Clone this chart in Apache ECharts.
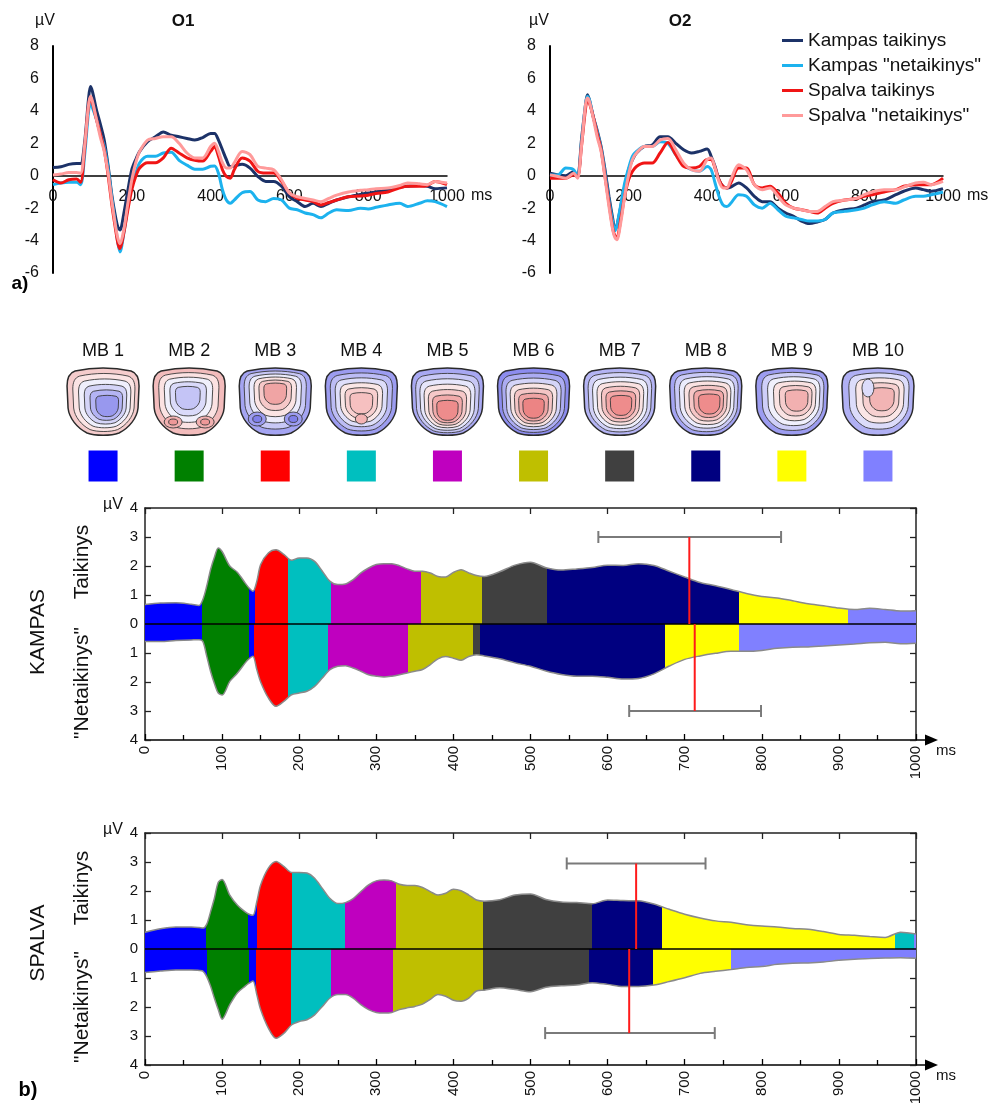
<!DOCTYPE html>
<html><head><meta charset="utf-8">
<script src="https://cdn.jsdelivr.net/npm/echarts@6/dist/echarts.min.js"></script>
<style>html,body{margin:0;padding:0;background:#fff}#c{width:991px;height:1104px}</style>
</head><body><div id="c"></div>
<script>
// ---------- a) ERP traces ----------
const erpTime = [0,20,40,60,70,80,90,95,100,110,120,130,140,150,160,165,170,180,190,200,210,220,240,260,280,300,320,340,360,380,400,410,420,430,440,450,460,480,500,520,540,560,580,600,620,640,660,680,700,720,750,780,800,820,850,880,900,930,950,970,1000];
const seriesNames = ['Kampas taikinys', 'Kampas "netaikinys"', 'Spalva taikinys', 'Spalva "netaikinys"'];
const o1KampasTaik = [0.5,0.55,0.7,0.75,0.75,2.0,4.7,5.5,5.2,4.1, 3.2,2.2,0.6,-1.3,-2.7,-3.2,-3.35,-2.3,-0.9,0.37, 1.0,1.5,2.1,2.4,2.7,2.5,2.4,2.3,2.2,2.35, 2.6,2.6,2.2,1.6,1.0,0.55,0.6,0.7,0.47,-0.05, -0.35,-0.35,-0.65,-1.3,-1.6,-1.9,-1.7,-1.9,-1.7,-1.5, -1.3,-1.15,-1.07,-1.0,-0.85,-0.7,-0.65,-0.6,-0.65,-0.8, -0.75];
const o1KampasNet = [-0.55,-0.45,-0.4,-0.4,-0.55,1.2,3.9,4.5,4.2,3.5, 2.6,1.8,0.4,-1.5,-3.3,-4.2,-4.7,-3.5,-1.9,-0.65, 0.15,0.8,1.2,1.2,1.4,1.45,0.95,0.65,0.4,0.4, 0.58,0.6,0.15,-0.86,-1.5,-1.7,-1.5,-1.05,-0.97,-1.5, -1.6,-1.4,-1.5,-2.0,-2.1,-2.3,-2.4,-2.6,-2.3,-2.1, -2.15,-2.0,-2.05,-1.95,-1.8,-1.7,-1.9,-1.7,-1.55,-1.6, -1.9];
const o1SpalvaTaik = [-0.25,-0.45,-0.25,-0.2,-0.4,1.6,4.3,4.8,4.5,3.5, 2.6,1.6,0.0,-1.9,-3.5,-4.2,-4.5,-3.5,-2.1,-0.86, -0.05,0.47,0.8,0.8,1.1,1.7,1.4,1.1,0.95,0.9, 1.5,1.8,1.2,0.37,-0.05,-0.15,0.37,1.1,0.9,0.27, 0.16,0.16,-0.35,-1.07,-1.4,-1.5,-1.6,-1.8,-1.65,-1.5, -1.3,-1.25,-1.2,-1.1,-1.0,-0.75,-0.65,-0.65,-0.6,-0.35, -0.55];
const o1SpalvaNet = [0.05,0.1,0.2,0.2,0.15,1.8,4.3,4.9,4.6,3.5, 2.4,1.5,0.15,-1.7,-3.3,-3.9,-4.2,-3.3,-1.7,-0.25, 0.8,1.5,2.2,2.3,2.4,2.4,2.0,1.4,1.1,1.1, 1.8,2.0,1.5,0.8,0.47,0.47,0.8,1.5,1.3,0.58, 0.47,0.37,-0.25,-1.07,-1.3,-1.4,-1.5,-1.6,-1.4,-1.2, -1.0,-0.9,-0.86,-0.8,-0.76,-0.6,-0.45,-0.5,-0.55,-0.35, -0.45];
const o2KampasTaik = [0.15,0.05,0.0,0.25,-0.05,2.2,4.3,5.0,4.7,3.65, 2.8,1.8,0.37,-1.27,-2.7,-3.3,-3.1,-1.9,-0.65,0.37, 1.0,1.4,1.8,1.9,2.4,2.4,2.0,1.6,1.4,1.5, 1.65,1.2,0.57,-0.25,-0.65,-0.75,-0.7,-0.45,-0.75,-1.27, -1.6,-1.6,-2.0,-2.3,-2.5,-2.8,-2.95,-2.85,-2.7,-2.3, -2.1,-2.0,-1.8,-1.6,-1.5,-1.17,-0.96,-0.75,-0.86,-0.96, -0.8];
const o2KampasNet = [0.05,0.05,0.47,0.37,-0.05,2.0,4.3,4.9,4.7,3.65, 2.7,1.7,0.15,-1.5,-2.9,-3.4,-3.1,-1.8,-0.45,0.47, 1.2,1.5,1.8,1.8,2.1,2.0,1.3,0.68,0.37,0.27, 0.57,0.37,-0.45,-1.27,-1.8,-1.9,-1.7,-1.17,-1.27,-1.8, -2.0,-1.7,-2.1,-2.5,-2.6,-2.7,-2.8,-2.8,-2.7,-2.3, -2.2,-2.1,-2.0,-1.8,-1.6,-1.7,-1.5,-1.27,-1.27,-1.17, -1.0];
const o2SpalvaTaik = [-0.15,-0.15,-0.15,0.05,-0.05,1.8,4.05,4.7,4.5,3.65, 2.6,1.6,-0.05,-1.7,-3.3,-3.7,-3.85,-2.7,-1.27,-0.25, 0.27,0.57,0.78,0.78,1.4,2.05,1.3,0.57,0.47,0.57, 1.0,1.0,0.47,-0.25,-0.65,-0.75,-0.45,0.47,0.47,-0.55, -0.75,-0.65,-1.07,-1.7,-2.0,-2.1,-2.2,-2.3,-2.0,-1.7, -1.5,-1.4,-1.27,-1.17,-1.0,-0.86,-0.65,-0.55,-0.55,-0.55, -0.15];
const o2SpalvaNet = [0.05,-0.05,-0.15,0.15,-0.15,1.8,4.3,4.8,4.6,3.55, 2.4,1.5,-0.15,-1.9,-3.4,-3.8,-3.95,-2.9,-1.27,0.05, 1.0,1.4,1.8,1.8,2.2,2.3,1.6,0.78,0.37,0.27, 1.0,1.1,0.47,-0.35,-0.75,-0.75,-0.25,0.68,0.37,-0.55, -0.86,-0.75,-1.27,-1.8,-2.0,-2.1,-2.2,-2.2,-1.9,-1.6, -1.5,-1.4,-1.17,-1.0,-0.86,-0.86,-0.7,-0.45,-0.4,-0.55, -0.35];
const erpTicks = [-6, 8, 2];

// ---------- b) microstates ----------
const mbLabels = ['MB 1','MB 2','MB 3','MB 4','MB 5','MB 6','MB 7','MB 8','MB 9','MB 10'];
const mbColors = ['#0000ff','#008000','#ff0000','#00bfbf','#bf00bf','#bfbf00','#404040','#000080','#ffff00','#8080ff'];
const gfpTime = [0,20,40,60,70,75,80,85,90,95,100,110,120,130,135,140,145,150,160,170,180,190,200,210,220,230,240,250,260,270,280,290,300,310,320,330,340,350,360,370,380,390,400,410,420,430,440,460,480,500,520,540,560,580,600,620,640,660,680,700,720,740,760,780,800,820,840,860,880,900,920,940,960,980,1000];
const kampasTaik = [0.67,0.72,0.73,0.68,0.64,0.84,1.3,1.87,2.3,2.62, 2.5,2.0,1.78,1.41,1.24,1.13,1.47,2.05,2.45,2.56, 2.4,2.2,2.28,2.28,2.16,1.82,1.47,1.36,1.38,1.53, 1.76,1.93,2.05,2.08,2.08,2.01,1.9,1.82,1.82,1.76, 1.64,1.62,1.78,1.87,1.76,1.67,1.64,1.8,2.03,2.13, 1.94,1.86,1.9,1.95,2.03,2.02,2.08,2.02,1.82,1.62, 1.43,1.32,1.19,1.05,0.95,0.9,0.8,0.7,0.63,0.55, 0.5,0.54,0.5,0.45,0.46];
const kampasNet = [0.6,0.6,0.57,0.55,0.54,0.6,1.1,1.63,2.05,2.38, 2.45,1.98,1.69,1.34,1.2,1.11,1.57,2.0,2.55,2.84, 2.67,2.44,2.38,2.32,2.15,1.86,1.57,1.46,1.44,1.52, 1.63,1.75,1.8,1.83,1.8,1.75,1.69,1.63,1.57,1.4, 1.2,1.12,1.18,1.25,1.12,1.06,1.1,1.2,1.34,1.46, 1.62,1.74,1.8,1.8,1.84,1.9,1.88,1.72,1.45,1.22, 1.1,1.01,0.94,0.94,0.91,0.84,0.8,0.79,0.76,0.72, 0.69,0.65,0.63,0.68,0.66];
const spalvaTaik = [0.58,0.7,0.76,0.76,0.74,0.72,0.85,1.28,1.75,2.3, 2.4,1.86,1.51,1.28,1.2,1.16,1.63,2.21,2.79,3.02, 2.85,2.64,2.64,2.62,2.44,2.09,1.74,1.57,1.6,1.74, 1.98,2.21,2.35,2.38,2.35,2.23,2.19,2.19,2.12,1.98, 1.86,1.92,2.06,2.01,1.86,1.69,1.65,1.7,1.86,1.9, 1.71,1.62,1.6,1.56,1.69,1.67,1.66,1.55,1.37,1.2, 1.07,0.97,0.92,0.84,0.79,0.76,0.71,0.68,0.6,0.5, 0.47,0.43,0.4,0.58,0.52];
const spalvaNet = [0.81,0.76,0.72,0.72,0.74,0.76,0.95,1.28,1.7,2.09, 2.42,1.92,1.51,1.28,1.18,1.1,1.57,2.09,2.73,3.08, 2.91,2.62,2.5,2.44,2.27,1.98,1.69,1.57,1.57,1.69, 1.92,2.09,2.19,2.21,2.19,2.09,2.03,1.98,1.9,1.74, 1.57,1.63,1.77,1.8,1.69,1.45,1.42,1.34,1.4,1.47, 1.32,1.27,1.24,1.16,1.22,1.29,1.29,1.24,1.12,0.99, 0.84,0.77,0.71,0.64,0.6,0.53,0.49,0.48,0.45,0.39, 0.35,0.33,0.31,0.3,0.32];
// segment boundaries (ms) and the microstate number (1..10) of each segment
const kampasTaikBounds = [0,74,135,143,186,241,358,437,522,771,912,1000];
const kampasTaikStates = [1,2,1,3,4,5,6,7,8,9,10];
const kampasNetBounds = [0,74,135,142,185,238,341,425,434,675,770,1000];
const kampasNetStates = [1,2,1,3,4,5,6,7,8,9,10];
const spalvaTaikBounds = [0,79,134,145,191,259,326,439,580,671,973,997,1000];
const spalvaTaikStates = [1,2,1,3,4,5,6,7,8,9,4,10];
const spalvaNetBounds = [0,81,135,144,189,241,322,439,576,659,760,1000];
const spalvaNetStates = [1,2,1,3,4,5,6,7,8,9,10];
// peak latency mean and range (ms), drawn at level (µV)
const kampasPeakMean = [706, 713];
const kampasPeakLow = [588, 628];
const kampasPeakHigh = [825, 799];
const kampasPeakLevel = [3, -3];
const spalvaPeakMean = [637, 628];
const spalvaPeakLow = [547, 519];
const spalvaPeakHigh = [727, 739];
const spalvaPeakLevel = [2.95, -2.9];
const gfpTicks = [-4, 4, 1];

// ---------- layout & style ----------
const FONT = "'Liberation Sans', Arial, Helvetica, sans-serif";
const TXT = '#111';
const lineColors = ['#1c3268', '#1cb2ee', '#f01515', '#ff9a9a'];
const G = {
  o1: {left: 53, top: 46, width: 394, height: 227},
  o2: {left: 550, top: 46, width: 393, height: 227},
  mb: {left: 60, top: 370, width: 861, height: 128},
  k: {left: 145, top: 508, width: 771, height: 232},
  s: {left: 145, top: 833, width: 771, height: 232}
};
// topographic map appearance (hot-spot offset, contour band colours outer->inner, extra blobs)
const topoStyles = [
  {h:[6,6], bands:['#f5cccc','#fbe4e4','#efeffc','#d4d4f8','#b4b4f4','#9898ee'], extra:[]},
  {h:[-2,-6], bands:['#f3bcbc','#fbe2e2','#f0f0fc','#dadafa','#c4c4f6'], extra:[[-16,20,9,6,['#f2b0b0','#ee9898']],[16,20,9,6,['#f2b0b0','#ee9898']]]},
  {h:[0,-12], bands:['#a4a4f2','#c8c8f6','#ececfc','#fbe4e4','#f6c8c8','#f0a4a4'], extra:[[-18,17,9,7,['#9c9cf0','#8080ea']],[18,17,9,7,['#9c9cf0','#8080ea']]]},
  {h:[0,2], bands:['#9c9cf0','#bcbcf5','#dedefa','#fae6e6','#f8cfcf','#f6c0c0'], extra:[[0,17,6,5,['#f4b4b4']]]},
  {h:[0,12], bands:['#a8a8f2','#c8c8f6','#e6e6fb','#fae6e6','#f6c8c8','#f2aaaa','#ee8c8c'], extra:[]},
  {h:[0,9], bands:['#8c8cee','#acacf2','#d4d4f8','#f8e4e4','#f4c4c4','#f0a4a4','#ec8484'], extra:[]},
  {h:[2,5], bands:['#b4b4f4','#d2d2f8','#eeeefc','#fae2e2','#f6c4c4','#f2a6a6','#ee8c8c'], extra:[]},
  {h:[5,3], bands:['#a4a4f2','#cacaf7','#ececfc','#fae2e2','#f6c6c6','#f2a8a8','#ee8c8c'], extra:[]},
  {h:[7,-2], bands:['#9c9cf0','#cfcff8','#f0f0fc','#fae2e2','#f6cccc','#f2b0b0'], extra:[]},
  {h:[6,-4], bands:['#b0b0f4','#dcdcfa','#fae6e6','#f6d0d0','#f2b4b4'], extra:[[-10,-14,6,9,['#dcdcfa']]]}
];
const HEAD = [['M',-28,-31],['C',-10,-35,10,-35,28,-31],['C',34,-29,36,-24,36,-16],['L',35,6],['C',34,16,26,26,16,31],['C',8,34,-8,34,-16,31],['C',-26,26,-34,16,-35,6],['L',-36,-16],['C',-36,-24,-34,-29,-28,-31],['Z']];
function headPath(cx, cy, hx, hy, s) {
  return HEAD.map(cmd => {
    const out = [cmd[0]];
    for (let k = 1; k < cmd.length; k += 2) {
      out.push((cx + hx + s * (cmd[k] - hx)).toFixed(2), (cy + hy + s * (cmd[k + 1] - hy)).toFixed(2));
    }
    return out.join(' ');
  }).join(' ');
}
function ellipsePath(x, y, rx, ry) {
  return 'M ' + (x - rx) + ' ' + y + ' A ' + rx + ' ' + ry + ' 0 1 0 ' + (x + rx) + ' ' + y + ' A ' + rx + ' ' + ry + ' 0 1 0 ' + (x - rx) + ' ' + y + ' Z';
}
function renderTopo(params, api) {
  const c = api.coord([api.value(0), api.value(1)]);
  const st = topoStyles[params.dataIndex];
  const n = st.bands.length;
  const children = st.bands.map((col, k) => ({
    type: 'path',
    shape: {pathData: headPath(c[0], c[1], st.h[0], st.h[1], 1 - k * 0.82 / n)},
    style: {fill: col, stroke: k === 0 ? '#2a2a2a' : '#3a3a3a', lineWidth: k === 0 ? 1.5 : 0.9}
  }));
  st.extra.forEach(e => {
    e[4].forEach((col, k) => {
      const s = 1 - k * 0.5;
      children.push({type: 'path', shape: {pathData: ellipsePath(c[0] + e[0], c[1] + e[1], e[2] * s, e[3] * s)},
        style: {fill: col, stroke: '#3a3a3a', lineWidth: 0.9}});
    });
  });
  return {type: 'group', children};
}
function renderPeak(params, api) {
  const mean = api.value(0), lo = api.value(1), hi = api.value(2), lv = api.value(3);
  const p0 = api.coord([mean, 0]), p1 = api.coord([mean, lv]);
  const a = api.coord([lo, lv]), b = api.coord([hi, lv]);
  const gray = {stroke: '#7a7a7a', lineWidth: 2};
  return {type: 'group', children: [
    {type: 'line', shape: {x1: a[0], y1: a[1], x2: b[0], y2: b[1]}, style: gray},
    {type: 'line', shape: {x1: a[0], y1: a[1] - 6, x2: a[0], y2: a[1] + 6}, style: gray},
    {type: 'line', shape: {x1: b[0], y1: b[1] - 6, x2: b[0], y2: b[1] + 6}, style: gray},
    {type: 'line', shape: {x1: p0[0], y1: p0[1], x2: p1[0], y2: p1[1]}, style: {stroke: '#ff1a1a', lineWidth: 2}}
  ]};
}
function pieces(bounds, states) {
  return states.map((s, i) => {
    const p = {gte: bounds[i], color: mbColors[s - 1]};
    if (i === states.length - 1) p.lte = bounds[i + 1]; else p.lt = bounds[i + 1];
    return p;
  });
}
const pair = (xs, ys, sign) => xs.map((t, i) => [t, sign * ys[i]]);
const plain = v => String(v);

function erpAxes(gi, g) {
  // labels sit just under the zero line (axis line is moved onto y = 0)
  const zeroY = g.top + g.height * erpTicks[1] / (erpTicks[1] - erpTicks[0]);
  const labelMargin = zeroY + 13 - (g.top + g.height);
  return [{
    gridIndex: gi, type: 'value', min: 0, max: 1000, interval: 200,
    axisLine: {onZero: true, lineStyle: {color: '#000', width: 1.5}},
    axisTick: {show: false}, splitLine: {show: false},
    axisLabel: {fontSize: 16, color: TXT, fontFamily: FONT, margin: labelMargin, formatter: plain},
    name: 'ms', nameLocation: 'end', nameGap: 24,
    nameTextStyle: {fontSize: 16, color: TXT, fontFamily: FONT, verticalAlign: 'top', padding: [12, 0, 0, 0]}
  }, {
    gridIndex: gi, type: 'value', min: erpTicks[0], max: erpTicks[1], interval: erpTicks[2],
    axisLine: {show: true, onZero: false, lineStyle: {color: '#000', width: 2}},
    axisTick: {show: false}, splitLine: {show: false},
    axisLabel: {fontSize: 16, color: TXT, fontFamily: FONT, margin: 14, formatter: plain}
  }];
}
function gfpAxes(gi) {
  const frame = {color: '#222', width: 1.5};
  return {
    x: [{
      gridIndex: gi, type: 'value', min: 0, max: 1000, interval: 100, position: 'bottom',
      axisLine: {show: true, onZero: false, lineStyle: {color: '#000', width: 1.5}},
      axisTick: {show: true, inside: true, length: 6, lineStyle: {color: '#000', width: 1.3}},
      minorTick: {show: true, splitNumber: 2, length: 5, lineStyle: {color: '#000', width: 1.3}},
      splitLine: {show: false}, minorSplitLine: {show: false},
      axisLabel: {rotate: 90, fontSize: 15, color: TXT, fontFamily: FONT, margin: 6, formatter: plain},
      name: 'ms', nameLocation: 'end', nameGap: 20,
      nameTextStyle: {fontSize: 15, color: TXT, fontFamily: FONT, verticalAlign: 'top', padding: [3, 0, 0, 0]}
    }, {
      gridIndex: gi, type: 'value', min: 0, max: 1000, interval: 100, position: 'top',
      axisLine: {show: true, onZero: false, lineStyle: frame},
      axisTick: {show: true, inside: true, length: 6, lineStyle: {color: '#222', width: 1.3}},
      axisLabel: {show: false}, splitLine: {show: false}
    }],
    y: [{
      gridIndex: gi, type: 'value', min: gfpTicks[0], max: gfpTicks[1], interval: gfpTicks[2], position: 'left',
      axisLine: {show: true, onZero: false, lineStyle: frame},
      axisTick: {show: true, inside: true, length: 6, lineStyle: {color: '#222', width: 1.3}},
      axisLabel: {fontSize: 15, color: TXT, fontFamily: FONT, margin: 7, formatter: v => String(Math.abs(v))},
      splitLine: {show: false}
    }, {
      gridIndex: gi, type: 'value', min: gfpTicks[0], max: gfpTicks[1], interval: gfpTicks[2], position: 'right',
      axisLine: {show: true, onZero: false, lineStyle: frame},
      axisTick: {show: true, inside: true, length: 6, lineStyle: {color: '#222', width: 1.3}},
      axisLabel: {show: false}, splitLine: {show: false}
    }]
  };
}
const kA = gfpAxes(3), sA = gfpAxes(4);
const o1A = erpAxes(0, G.o1), o2A = erpAxes(1, G.o2);

function erpSeries(axisIdx, arrays) {
  return arrays.map((arr, i) => ({
    name: seriesNames[i], type: 'line', xAxisIndex: axisIdx, yAxisIndex: axisIdx,
    data: pair(erpTime, arr, 1), symbol: 'none', smooth: 0.3,
    lineStyle: {color: lineColors[i], width: 3}, itemStyle: {color: lineColors[i]}, z: 3 + i
  }));
}
function gfpSeries(xi, yi, name, upper, lower, peaksMean, peaksLow, peaksHigh, peaksLevel) {
  return [{
    name: name + ' taikinys', type: 'line', xAxisIndex: xi, yAxisIndex: yi,
    data: pair(gfpTime, upper, 1), symbol: 'none', smooth: 0.3,
    lineStyle: {color: '#8a8a8a', width: 1.5}, areaStyle: {opacity: 1}, z: 2
  }, {
    name: name + ' netaikinys', type: 'line', xAxisIndex: xi, yAxisIndex: yi,
    data: pair(gfpTime, lower, -1), symbol: 'none', smooth: 0.3,
    lineStyle: {color: '#8a8a8a', width: 1.5}, areaStyle: {opacity: 1}, z: 2,
    markLine: {silent: true, symbol: ['none', 'none'], label: {show: false},
      lineStyle: {color: '#000', width: 1.6, type: 'solid'}, data: [{yAxis: 0}]}
  }, {
    name: name + ' peak', type: 'custom', xAxisIndex: xi, yAxisIndex: yi, renderItem: renderPeak, clip: false, z: 6,
    data: peaksMean.map((m, i) => [m, peaksLow[i], peaksHigh[i], peaksLevel[i]])
  }];
}

const series = [].concat(
  erpSeries(0, [o1KampasTaik, o1KampasNet, o1SpalvaTaik, o1SpalvaNet]),
  erpSeries(1, [o2KampasTaik, o2KampasNet, o2SpalvaTaik, o2SpalvaNet]),
  [{
    name: 'mb-key', type: 'scatter', xAxisIndex: 2, yAxisIndex: 2, symbol: 'rect', symbolSize: [29, 31],
    data: mbLabels.map((l, i) => ({value: [l, 'key'], itemStyle: {color: mbColors[i], opacity: 1}}))
  }, {
    name: 'mb-topo', type: 'custom', xAxisIndex: 2, yAxisIndex: 2, renderItem: renderTopo, clip: false,
    data: mbLabels.map(l => [l, 'topo'])
  }],
  gfpSeries(3, 3, 'KAMPAS', kampasTaik, kampasNet, kampasPeakMean, kampasPeakLow, kampasPeakHigh, kampasPeakLevel),
  gfpSeries(5, 5, 'SPALVA', spalvaTaik, spalvaNet, spalvaPeakMean, spalvaPeakLow, spalvaPeakHigh, spalvaPeakLevel)
);

function txt(x, y, text, size, extra) {
  return Object.assign({type: 'text', x, y, silent: true, style: Object.assign({
    text, fill: TXT, fontSize: size, fontFamily: FONT, textAlign: 'center', textVerticalAlign: 'middle',
    align: 'center', verticalAlign: 'middle'}, (extra && extra.style) || {})}, (extra && extra.el) || {});
}
const rot = {el: {rotation: Math.PI / 2}};
function arrow(g) {
  const r = g.left + g.width, b = g.top + g.height;
  return [
    {type: 'line', silent: true, shape: {x1: r, y1: b, x2: r + 12, y2: b}, style: {stroke: '#000', lineWidth: 1.5}},
    {type: 'polygon', silent: true, shape: {points: [[r + 9, b - 5.5], [r + 22, b], [r + 9, b + 5.5]]}, style: {fill: '#000'}}
  ];
}

const option = {
  animation: false,
  backgroundColor: '#fff',
  textStyle: {fontFamily: FONT},
  grid: [G.o1, G.o2, G.mb, G.k, G.s].map(g => Object.assign({outerBoundsMode: 'none', containLabel: false}, g)),
  legend: {
    data: seriesNames, orient: 'vertical', left: 782, top: 31, padding: 0, itemGap: 6,
    icon: 'rect', itemWidth: 21, itemHeight: 3, selectedMode: false,
    textStyle: {fontSize: 19, color: TXT, fontFamily: FONT, lineHeight: 19}
  },
  xAxis: [o1A[0], o2A[0], {
    gridIndex: 2, type: 'category', data: mbLabels, position: 'top', boundaryGap: true,
    axisLine: {show: false}, axisTick: {show: false}, splitLine: {show: false},
    axisLabel: {interval: 0, fontSize: 18, color: TXT, fontFamily: FONT, margin: 10}
  }, kA.x[0], kA.x[1], sA.x[0], sA.x[1]],
  yAxis: [o1A[1], o2A[1], {
    gridIndex: 2, type: 'category', data: ['key', 'topo'], show: false
  }, kA.y[0], kA.y[1], sA.y[0], sA.y[1]],
  visualMap: [
    {type: 'piecewise', show: false, dimension: 0, seriesIndex: 10, pieces: pieces(kampasTaikBounds, kampasTaikStates)},
    {type: 'piecewise', show: false, dimension: 0, seriesIndex: 11, pieces: pieces(kampasNetBounds, kampasNetStates)},
    {type: 'piecewise', show: false, dimension: 0, seriesIndex: 13, pieces: pieces(spalvaTaikBounds, spalvaTaikStates)},
    {type: 'piecewise', show: false, dimension: 0, seriesIndex: 14, pieces: pieces(spalvaNetBounds, spalvaNetStates)}
  ],
  graphic: [
    txt(45, 21, 'µV', 16), txt(539, 21, 'µV', 16),
    txt(183, 21, 'O1', 17, {style: {fontWeight: 'bold'}}), txt(680, 21, 'O2', 17, {style: {fontWeight: 'bold'}}),
    txt(20, 284, 'a)', 19, {style: {fontWeight: 'bold', fill: '#000'}}),
    txt(28, 1090, 'b)', 20, {style: {fontWeight: 'bold', fill: '#000'}}),
    txt(113, 505, 'µV', 16), txt(113, 830, 'µV', 16),
    txt(38, 632, 'KAMPAS', 21, rot), txt(82, 562, 'Taikinys', 21, rot), txt(82, 683, '"Netaikinys"', 21, rot),
    txt(38, 943, 'SPALVA', 21, rot), txt(82, 888, 'Taikinys', 21, rot), txt(82, 1007, '"Netaikinys"', 21, rot)
  ].concat(arrow(G.k), arrow(G.s)),
  series
};
const chart = echarts.init(document.getElementById('c'), null, {renderer: 'canvas'});
chart.setOption(option);
</script>
</body></html>
